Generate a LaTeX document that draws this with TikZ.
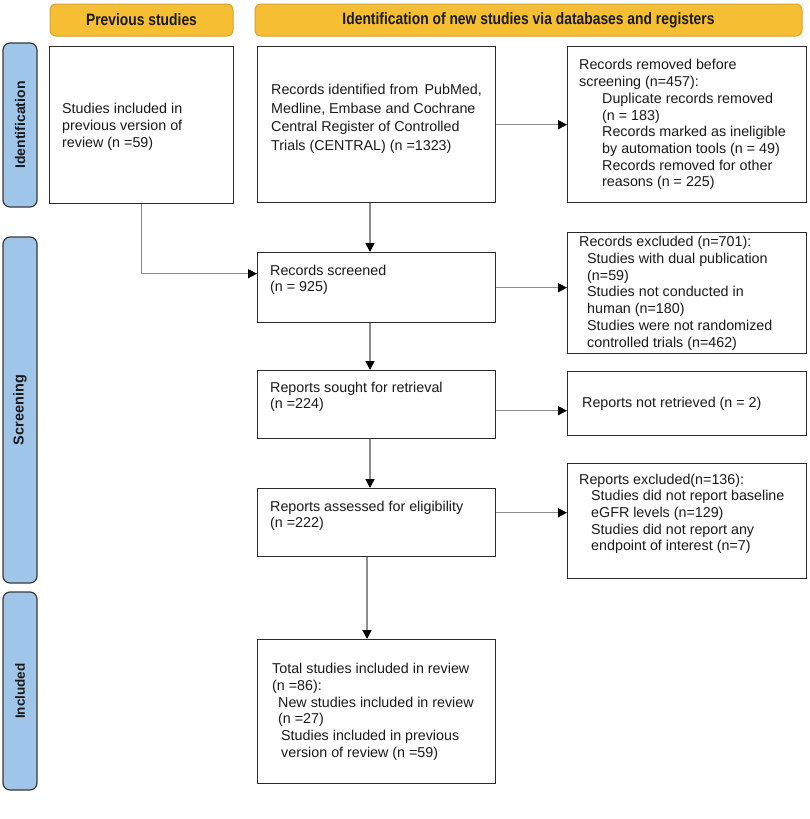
\documentclass[tikz,border=0pt]{standalone}
\usepackage{fontspec}
\setmainfont{Liberation Sans}
\newfontfamily\narrowfont{Liberation Sans}[FakeStretch=0.84]
\usetikzlibrary{arrows.meta}
\definecolor{hdrfill}{HTML}{F5BE33}
\definecolor{hdrline}{HTML}{D9A32A}
\definecolor{barfill}{HTML}{9FC5E8}
\definecolor{barline}{HTML}{3A3A3A}
\definecolor{boxline}{HTML}{2B2B2B}
\definecolor{arrline}{HTML}{8C8C8C}
\definecolor{txtcol}{HTML}{1A1A1A}
\begin{document}
\begin{tikzpicture}[x=1pt,y=-1pt,
  hdr/.style={draw=hdrline, fill=hdrfill, line width=1pt, rounded corners=6pt,
    font=\narrowfont\bfseries\fontsize{16.5}{19}\selectfont, inner sep=0pt, text=txtcol},
  bar/.style={draw=barline, fill=barfill, line width=1.2pt, rounded corners=7pt,
    inner sep=0pt, rotate=90, font=\bfseries, text=txtcol},
  box/.style={draw=boxline, line width=1.4pt, inner sep=0pt, anchor=north west},
  txt/.style={align=left, inner sep=0pt, anchor=west, text=txtcol,
    font=\fontsize{14.3}{16.7}\selectfont},
  bigtxt/.style={txt, font=\fontsize{14.3}{18.4}\selectfont},
  arr/.style={draw=arrline, line width=1.5pt, -{Triangle[length=9pt,width=9pt,color=black]}}
]
\useasboundingbox (0,0) rectangle (809,819);
\fill[white] (0,0) rectangle (809,819);

% headers
\node[hdr, minimum width=183pt, minimum height=32pt] (hprev) at (141.5,20) {Previous studies};
\node[hdr, minimum width=547pt, minimum height=32pt] (hnew) at (528.5,20) {Identification of new studies via databases and registers};

% side bars
\node[bar, minimum width=164pt, minimum height=34pt] (bid) at (20,125) {\fontsize{14}{16}\selectfont Identification};
\node[bar, minimum width=346pt, minimum height=34pt] (bscr) at (20,410) {\fontsize{14.5}{17}\selectfont Screening};
\node[bar, minimum width=198pt, minimum height=34pt] (binc) at (20,691) {\fontsize{13.5}{16}\selectfont Included};

% boxes
\node[box, minimum width=184pt, minimum height=157pt] (prev) at (49,46) {};
\node[box, minimum width=238pt, minimum height=156pt] (ident) at (257,46) {};
\node[box, minimum width=239pt, minimum height=156pt] (removed) at (567,46) {};
\node[box, minimum width=238pt, minimum height=70pt] (screened) at (257,252) {};
\node[box, minimum width=239pt, minimum height=121pt] (excluded) at (567,232) {};
\node[box, minimum width=238pt, minimum height=68pt] (sought) at (257,370) {};
\node[box, minimum width=239pt, minimum height=64pt] (notret) at (567,371) {};
\node[box, minimum width=238pt, minimum height=68pt] (assessed) at (257,488) {};
\node[box, minimum width=239pt, minimum height=115pt] (repexcl) at (567,463) {};
\node[box, minimum width=238pt, minimum height=144pt] (total) at (257,639) {};

% texts
\node[txt] (tprev) at ([xshift=13pt,yshift=-1.5pt]prev.west) {Studies included in\\previous version of\\review (n =59)};
\node[bigtxt] (tident) at ([xshift=14pt,yshift=6pt]ident.west) {Records identified from\, PubMed,\\Medline, Embase and Cochrane\\Central Register of Controlled\\Trials (CENTRAL) (n =1323)};
\node[txt] (tremoved) at ([xshift=12pt]removed.west) {Records removed before\\screening (n=457):\\
\hspace*{23pt}Duplicate records removed\\\hspace*{23pt}(n = 183)\\
\hspace*{23pt}Records marked as ineligible\\\hspace*{23pt}by automation tools (n = 49)\\
\hspace*{23pt}Records removed for other\\\hspace*{23pt}reasons (n = 225)};
\node[txt] (tscreened) at ([xshift=13pt,yshift=8pt]screened.west) {Records screened\\(n = 925)};
\node[txt] (texcluded) at ([xshift=12pt]excluded.west) {Records excluded (n=701):\\
\hspace*{8pt}Studies with dual publication\\\hspace*{8pt}(n=59)\\
\hspace*{8pt}Studies not conducted in\\\hspace*{8pt}human (n=180)\\
\hspace*{8pt}Studies were not randomized\\\hspace*{8pt}controlled trials (n=462)};
\node[txt] (tsought) at ([xshift=13pt,yshift=8pt]sought.west) {Reports sought for retrieval\\(n =224)};
\node[txt] (tnotret) at ([xshift=15pt]notret.west) {Reports not retrieved (n = 2)};
\node[txt] (tassessed) at ([xshift=13pt,yshift=7pt]assessed.west) {Reports assessed for eligibility\\(n =222)};
\node[txt] (trepexcl) at ([xshift=12pt,yshift=7.5pt]repexcl.west) {Reports excluded(n=136):\\
\hspace*{12pt}Studies did not report baseline\\\hspace*{12pt}eGFR levels (n=129)\\
\hspace*{12pt}Studies did not report any\\\hspace*{12pt}endpoint of interest (n=7)};
\node[txt] (ttotal) at ([xshift=15pt]total.west) {Total studies included in review\\(n =86):\\
\hspace*{6pt}New studies included in review\\\hspace*{6pt}(n =27)\\
\hspace*{9pt}Studies included in previous\\\hspace*{9pt}version of review (n =59)};

% connectors
\coordinate (colA) at (370,0);
\coordinate (colB) at (367,0);
\draw[arr] (ident.east) -- (ident.east -| removed.west);
\draw[arr] (ident.south -| colA) -- (screened.north -| colA);
\draw[arr] (prev.south) |- ([yshift=14pt]screened.west);
\draw[arr] (screened.east) -- (screened.east -| excluded.west);
\draw[arr] (screened.south -| colA) -- (sought.north -| colA);
\draw[arr] ([yshift=-6pt]sought.east) -- ([yshift=-6pt]sought.east -| notret.west);
\draw[arr] (sought.south -| colA) -- (assessed.north -| colA);
\draw[arr] ([yshift=10pt]assessed.east) -- ([yshift=10pt]assessed.east -| repexcl.west);
\draw[arr] (assessed.south -| colB) -- (total.north -| colB);
\end{tikzpicture}
\end{document}
